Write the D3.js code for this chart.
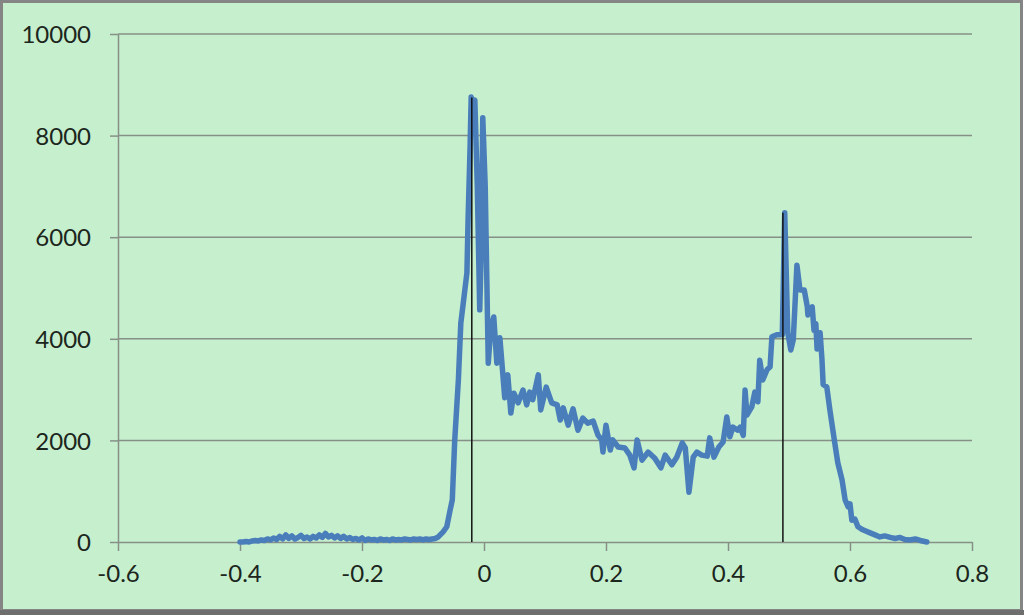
<!DOCTYPE html>
<html>
<head>
<meta charset="utf-8">
<script src="https://cdn.jsdelivr.net/npm/d3@7"></script>
<style>
  body { margin: 0; background: #fff; }
  svg { display: block; }
  .tick text { font-family: Lato, "Open Sans", sans-serif; font-size: 24px; fill: #1c261c; }
</style>
</head>
<body>
<svg width="1024" height="615"></svg>
<script>
// x positions of the measured curve
var xVals = [
  -0.400, -0.395, -0.390, -0.385, -0.380, -0.375, -0.370, -0.365, -0.360, -0.355,
  -0.350, -0.345, -0.340, -0.335, -0.330, -0.325, -0.320, -0.315, -0.310, -0.305,
  -0.300, -0.295, -0.290, -0.285, -0.280, -0.275, -0.270, -0.265, -0.260, -0.255,
  -0.250, -0.245, -0.240, -0.235, -0.230, -0.225, -0.220, -0.215, -0.210, -0.205,
  -0.200, -0.195, -0.190, -0.185, -0.180, -0.175, -0.170, -0.165, -0.160, -0.155,
  -0.150, -0.145, -0.140, -0.135, -0.130, -0.125, -0.120, -0.115, -0.110, -0.105,
  -0.100, -0.095, -0.090, -0.085, -0.080, -0.075,
  -0.067, -0.061, -0.056, -0.052, -0.048, -0.042, -0.038, -0.033, -0.028, -0.026,
  -0.023, -0.021, -0.018, -0.015, -0.011, -0.007, -0.005, -0.002, 0.002, 0.007,
  0.011, 0.016, 0.021, 0.026, 0.034, 0.039, 0.044, 0.049, 0.056, 0.064,
  0.070, 0.075, 0.080, 0.089, 0.093, 0.102, 0.111, 0.120, 0.125, 0.130,
  0.138, 0.146, 0.154, 0.162, 0.170, 0.179, 0.187, 0.193, 0.195, 0.200,
  0.207, 0.211, 0.220, 0.231, 0.239, 0.246, 0.251, 0.259, 0.269, 0.280,
  0.290, 0.297, 0.308, 0.316, 0.325, 0.330, 0.336, 0.343, 0.349, 0.357,
  0.366, 0.370, 0.377, 0.385, 0.392, 0.398, 0.403, 0.408, 0.416, 0.420,
  0.425, 0.428, 0.431, 0.439, 0.444, 0.449, 0.452, 0.457, 0.464, 0.469,
  0.472, 0.480, 0.489, 0.493, 0.498, 0.503, 0.507, 0.513, 0.518, 0.525,
  0.530, 0.531, 0.538, 0.541, 0.544, 0.546, 0.551, 0.554, 0.556, 0.562,
  0.567, 0.575, 0.580, 0.587, 0.592, 0.597, 0.600, 0.603, 0.608, 0.613,
  0.621, 0.633, 0.641, 0.649, 0.657, 0.666, 0.674, 0.682, 0.690, 0.698,
  0.707, 0.715, 0.726
];
// counts
var yVals = [
  0, 0, 10, 0, 20, 30, 20, 40, 30, 60,
  40, 80, 50, 110, 60, 140, 70, 120, 60, 90,
  130, 70, 100, 60, 110, 80, 140, 90, 170, 100,
  130, 80, 120, 70, 110, 60, 90, 50, 70, 40,
  80, 30, 60, 40, 50, 30, 60, 40, 50, 30,
  60, 40, 50, 40, 60, 50, 40, 60, 50, 60,
  40, 60, 50, 60, 70, 100,
  200, 300, 600, 830, 2000, 3190, 4310, 4800, 5300, 6400,
  7700, 8760, 8600, 8700, 7000, 4570, 5500, 8350, 7000, 3520,
  4200, 4430, 3520, 4020, 2840, 3290, 2540, 2930, 2740, 2990,
  2700, 2950, 2800, 3290, 2600, 3050, 2740, 2700, 2400, 2640,
  2300, 2620, 2200, 2440, 2340, 2380, 2100, 2010, 1770, 2300,
  1810, 2010, 1870, 1850, 1710, 1460, 2010, 1610, 1770, 1650,
  1460, 1710, 1520, 1670, 1950, 1850, 980, 1670, 1770, 1710,
  1690, 2050, 1670, 1870, 1970, 2460, 2070, 2260, 2200, 2260,
  2100, 2990, 2500, 2660, 2950, 2760, 3580, 3190, 3390, 3450,
  4040, 4080, 4080, 6480, 4120, 3780, 3980, 5450, 4960, 4960,
  4630, 4470, 4630, 4170, 4300, 3800, 4120, 3600, 3100, 3050,
  2600, 1950, 1560, 1220, 830, 690, 750, 430, 450, 300,
  240, 180, 140, 100, 120, 90, 70, 90, 50, 40,
  60, 30, 0
];
// vertical marker lines
var markerX = [-0.02, 0.49];
var markerY = [8750, 6480];

var xTicks = [-0.6, -0.4, -0.2, 0, 0.2, 0.4, 0.6, 0.8];
var yTicks = [0, 2000, 4000, 6000, 8000, 10000];

var svg = d3.select('svg');
var plotLeft = 118, plotRight = 972, plotTop = 34, plotBottom = 542;

svg.append('rect')
    .attr('x', 1.5).attr('y', 1.5)
    .attr('width', 1020).attr('height', 609)
    .attr('fill', '#c6efce')
    .attr('stroke', '#858585')
    .attr('stroke-width', 3);
svg.append('rect')
    .attr('x', 0).attr('y', 610)
    .attr('width', 1024).attr('height', 5)
    .attr('fill', '#6e6e6e');

var x = d3.scaleLinear().domain([-0.6, 0.8]).range([plotLeft, plotRight]);
var y = d3.scaleLinear().domain([0, 10000]).range([plotBottom, plotTop]);

// gridlines
svg.append('g').selectAll('line')
    .data(yTicks.slice(1))
    .enter().append('line')
    .attr('x1', plotLeft).attr('x2', plotRight)
    .attr('y1', function(d) { return y(d); })
    .attr('y2', function(d) { return y(d); })
    .attr('stroke', '#869086')
    .attr('stroke-width', 1.5);

var yAxis = svg.append('g')
    .attr('transform', 'translate(' + plotLeft + ',0)')
    .call(d3.axisLeft(y).tickValues(yTicks).tickSize(8).tickSizeOuter(0).tickPadding(19)
      .tickFormat(function(d) { return String(d); }));

var xAxis = svg.append('g')
    .attr('transform', 'translate(0,' + plotBottom + ')')
    .call(d3.axisBottom(x).tickValues(xTicks).tickSize(9).tickSizeOuter(0).tickPadding(14)
      .tickFormat(function(d) { return d === 0 ? '0' : d.toFixed(1); }));

svg.selectAll('.domain, .tick line')
    .attr('stroke', '#869086')
    .attr('stroke-width', 1.5);
yAxis.selectAll('.tick text').attr('dy', '0.36em');

var data = xVals.map(function(d, i) { return [d, yVals[i]]; });

var line = d3.line()
    .x(function(d) { return x(d[0]); })
    .y(function(d) { return y(d[1]); });

svg.append('path')
    .datum(data)
    .attr('d', line)
    .attr('fill', 'none')
    .attr('stroke', '#4a7ebb')
    .attr('stroke-width', 5.5)
    .attr('stroke-linejoin', 'round')
    .attr('stroke-linecap', 'round');

svg.append('g').selectAll('line')
    .data(markerX)
    .enter().append('line')
    .attr('x1', function(d) { return x(d); })
    .attr('x2', function(d) { return x(d); })
    .attr('y1', y(0))
    .attr('y2', function(d, i) { return y(markerY[i]); })
    .attr('stroke', '#111')
    .attr('stroke-width', 1.5);
</script>
</body>
</html>
